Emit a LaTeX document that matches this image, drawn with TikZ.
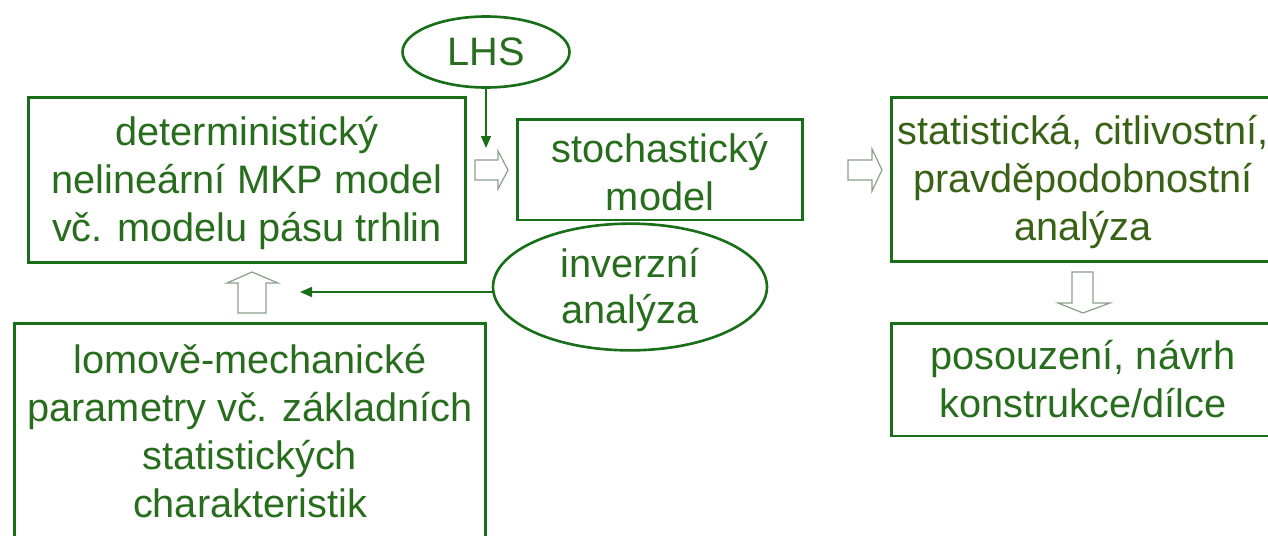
\documentclass[tikz,border=0pt]{standalone}
\usepackage{fontspec}
\setmainfont{Liberation Sans}
\usetikzlibrary{shapes.geometric,arrows.meta}
\definecolor{boxgreen}{RGB}{25,110,25}
\definecolor{txtgreen}{RGB}{40,108,30}
\definecolor{olivegreen}{RGB}{58,98,22}
\definecolor{hollowgray}{RGB}{140,160,140}
\newcommand{\lowerstrut}{\rule{0pt}{20pt}}
\begin{document}
\begin{tikzpicture}[x=0.02cm,y=-0.02cm,
  box/.style={draw=boxgreen, line width=1.7pt, inner sep=0pt, align=center,
    text=txtgreen, font=\fontsize{22.6}{27.3}\selectfont},
  oval/.style={ellipse, draw=boxgreen, line width=1.5pt, inner sep=0pt, align=center,
    text=txtgreen, font=\fontsize{22.6}{26.3}\selectfont},
  thinarrow/.style={draw=boxgreen, line width=0.9pt, -{Triangle[length=0.24cm,width=0.2cm]}},
  hollow/.style={draw=hollowgray, line width=0.7pt, fill=white, line join=miter}
]
\useasboundingbox (0,0) rectangle (1268,535);

% boxes
\node[box, minimum width=8.76cm, minimum height=3.32cm] (A) at (247,180)
  {\lowerstrut deterministický\\nelineární MKP model\\vč. modelu pásu trhlin};
\node[box, minimum width=5.72cm, minimum height=2.02cm] (B) at (660,169.5)
  {\lowerstrut stochastický\\model};
\node[box, text=olivegreen, minimum width=7.68cm, minimum height=3.3cm] (C) at (1083,179.5)
  {\lowerstrut statistická, citlivostní,\\pravděpodobnostní\\analýza};
\node[box, minimum width=7.68cm, minimum height=2.26cm] (D) at (1083,379.5)
  {posouzení, návrh\\konstrukce/dílce};
\node[box, minimum width=9.44cm, minimum height=4.34cm] (E) at (250,431.5)
  {lomově-mechanické\\parametry vč. základních\\statistických\\charakteristik};

% ellipses
\node[oval, minimum width=3.34cm, minimum height=1.42cm] (lhs) at (486,52) {LHS};
\node[oval, minimum width=5.48cm, minimum height=2.2cm] (inv) at (630,287) {\lowerstrut inverzní\\analýza};

% thin arrows
\coordinate (lhsend) at (486,148);
\draw[thinarrow] (lhs.south) -- (lhsend);
\coordinate (invend) at (300,292);
\draw[thinarrow] (inv.west |- invend) -- (invend);

% hollow block arrows
\draw[hollow] (475,160) -- (498,160) -- (498,151) -- (508,170) -- (498,189) -- (498,180) -- (475,180) -- cycle;
\draw[hollow] (848,160) -- (872,160) -- (872,149) -- (882,170) -- (872,191) -- (872,180) -- (848,180) -- cycle;
\draw[hollow] (238,313) -- (238,283) -- (227,283) -- (252,272) -- (278,283) -- (266,283) -- (266,313) -- cycle;
\draw[hollow] (1072,272) -- (1072,303) -- (1058,303) -- (1083,313) -- (1110,303) -- (1093,303) -- (1093,272) -- cycle;
\end{tikzpicture}
\end{document}
